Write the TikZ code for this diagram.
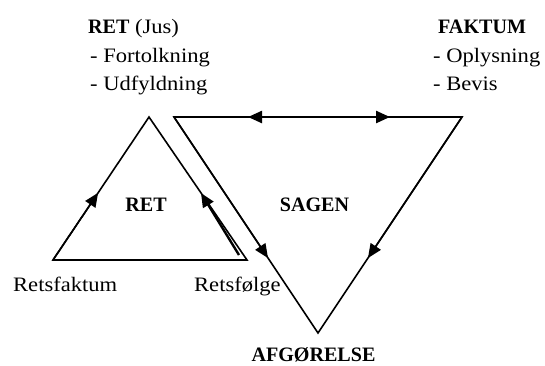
\documentclass[tikz,border=0pt]{standalone}
\usepackage{fontspec}
\setmainfont{Liberation Serif}[FakeStretch=1.1, BoldFeatures={FakeStretch=0.98}]
\usetikzlibrary{arrows.meta,calc}

\tikzset{
  edge/.style={line width=1.6pt, line join=miter},
  tip/.tip={Triangle[length=14pt,width=12pt]},
  flow/.style={line width=1.6pt, -tip},
  heavyflow/.style={line width=2.4pt, -tip},
  label/.style={inner sep=0pt, font=\fontsize{20.5}{24}\selectfont},
}

\begin{document}
\begin{tikzpicture}[x=1pt,y=-1pt]
\useasboundingbox (0,0) rectangle (545,365);

% vertices of the two triangles
\coordinate (ltop)   at (149,117);
\coordinate (lleft)  at (53,260);
\coordinate (lright) at (247,260);
\coordinate (rleft)  at (174,117);
\coordinate (rright) at (462,117);
\coordinate (rbot)   at (318,333);

% RET triangle and SAGEN triangle
\draw[edge] (ltop) -- (lleft) -- (lright) -- cycle;
\draw[edge] (rleft) -- (rright) -- (rbot) -- cycle;

% arrows along the edges
\coordinate (ltip) at ($(lleft)!0.47!(ltop)$);
\draw[flow] (lleft) -- (ltip);

\coordinate (fstart) at (239,255);
\coordinate (ftip)   at (201,193);
\draw[heavyflow] (fstart) -- (ftip);

\coordinate (tl) at ($(rleft)!0.257!(rright)$);
\coordinate (tr) at ($(rleft)!0.75!(rright)$);
\draw[line width=2.4pt, tip-tip] (tl) -- (tr);

\coordinate (sltip) at ($(rleft)!0.653!(rbot)$);
\draw[flow] (rleft) -- (sltip);
\coordinate (srtip) at ($(rright)!0.653!(rbot)$);
\draw[flow] (rright) -- (srtip);

% labels
\node[label, anchor=base west] (ret)  at (88,33)  {\textbf{RET} (Jus)};
\node[label, anchor=base west] (fort) at (90,62)  {- Fortolkning};
\node[label, anchor=base west] (udf)  at (90,90)  {- Udfyldning};
\node[label, anchor=base west] (fak)  at (438,33) {\textbf{FAKTUM}};
\node[label, anchor=base west] (opl)  at (433,62) {- Oplysning};
\node[label, anchor=base west] (bev)  at (433,90) {- Bevis};
\node[label, anchor=base] (retc) at (146,211) {\textbf{RET}};
\node[label, anchor=base] (sag)  at (314.5,211) {\textbf{SAGEN}};
\node[label, anchor=base west] (rfak) at (13,291) {Retsfaktum};
\node[label, anchor=base west] (rfol) at (194,291) {Retsfølge};
\node[label, anchor=base] (afg) at (313.5,361) {\textbf{AFGØRELSE}};
\end{tikzpicture}
\end{document}
